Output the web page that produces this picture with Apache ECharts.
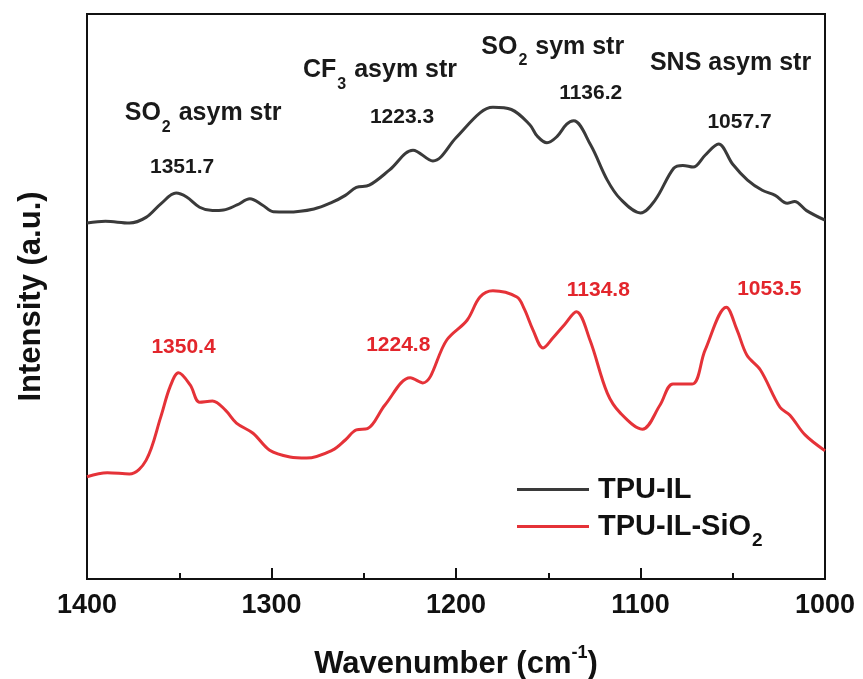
<!DOCTYPE html>
<html>
<head>
<meta charset="utf-8">
<script src="https://cdn.jsdelivr.net/npm/echarts@6/dist/echarts.min.js"></script>
<style>
  html, body { margin: 0; padding: 0; background: #fff; }
  #chart { width: 863px; height: 679px; }
</style>
</head>
<body>
<div id="chart"></div>
<script>
// FTIR spectra, 1400–1000 cm-1 (arbitrary intensity units, curves offset vertically)
const tpuIlWavenumber = [1400, 1390, 1377, 1368, 1360, 1351.7, 1346, 1339, 1332, 1326, 1318.7, 1311.7, 1305, 1299, 1291.5, 1277, 1267, 1260, 1254, 1247, 1236, 1223.3, 1212.5, 1200, 1187, 1180, 1170, 1160, 1156, 1150.7, 1145.3, 1140, 1136.2, 1127, 1118, 1111, 1100, 1092, 1082, 1077, 1071.5, 1065, 1057.7, 1050, 1042, 1034, 1027, 1020.5, 1016.5, 1010, 1000];
const tpuIlIntensity = [63.0, 63.3, 63.0, 64.0, 66.4, 68.3, 67.6, 65.8, 65.2, 65.3, 66.2, 67.3, 66.2, 65.0, 64.95, 65.5, 66.7, 67.9, 69.3, 69.7, 72.4, 75.9, 74.0, 78.1, 82.5, 83.5, 83.1, 80.4, 78.4, 77.2, 78.3, 80.5, 81.1, 76.8, 70.6, 67.3, 64.8, 67.1, 72.7, 73.2, 72.9, 75.0, 77.0, 73.4, 70.6, 68.8, 67.9, 66.5, 66.8, 65.2, 63.5];

const tpuIlSiO2Wavenumber = [1400, 1389, 1377, 1368, 1360, 1355, 1350.4, 1344, 1339, 1332, 1325, 1319, 1310, 1301, 1290, 1281, 1267, 1260, 1254, 1248, 1238.5, 1224.8, 1218, 1205, 1194, 1187, 1180, 1167, 1163, 1158.3, 1152.8, 1147.4, 1141, 1134.8, 1127.4, 1118, 1111, 1099, 1089.4, 1082.4, 1072, 1065, 1053.5, 1047.7, 1042.3, 1035, 1024.4, 1019, 1010.8, 1000];
const tpuIlSiO2Intensity = [18.1, 18.8, 18.6, 21.0, 28.7, 34.0, 36.5, 34.3, 31.3, 31.5, 29.9, 27.6, 25.8, 22.8, 21.6, 21.4, 22.8, 24.6, 26.4, 26.6, 30.8, 35.6, 34.7, 42.3, 45.8, 49.9, 51.0, 49.9, 47.8, 44.1, 40.9, 42.7, 45.1, 47.3, 42.3, 32.9, 29.4, 26.5, 30.8, 34.5, 34.5, 40.5, 48.1, 44.1, 39.6, 37.0, 30.4, 29.0, 25.5, 22.7];

// Labelled peak positions
const tpuIlPeaks = [1351.7, 1223.3, 1136.2, 1057.7];
const tpuIlSiO2Peaks = [1350.4, 1224.8, 1134.8, 1053.5];
const bandNames = ['{b|SO}{s|2}{b| asym str}', '{b|CF}{s|3}{b| asym str}', '{b|SO}{s|2}{b| sym str}', '{b|SNS asym str}'];

const xTicks = [1400, 1300, 1200, 1100, 1000];
const seriesNames = ['TPU-IL', 'TPU-IL-SiO2'];

const FONT = "'Liberation Sans', Arial, Helvetica, sans-serif";
const BLACK_LINE = '#3a3a3a';
const RED_LINE = '#e53238';

const zip = (xs, ys) => xs.map((x, i) => [x, ys[i]]);
const valueAt = (xs, ys, x) => ys[xs.indexOf(x)];

// label offsets (pixels) relative to each peak
const blackNumOffsets = [[6, -26], [-11, -33], [17, -28], [21, -22]];
const blackNameOffsets = [[27, -80], [-33, -80], [-21, -74], [12, -81]];
const redNumOffsets = [[5, -26], [-12, -33], [22, -22], [43, -18]];

const richBand = {
  b: { fontSize: 25, fontWeight: 'bold', color: '#1a1a1a', fontFamily: FONT, lineHeight: 30 },
  s: { fontSize: 16, fontWeight: 'bold', color: '#1a1a1a', fontFamily: FONT, verticalAlign: 'bottom', lineHeight: 16, padding: [0, 1, -7, 1] }
};

function peakMarks(xs, ys, peaks, numOffsets, color, names, nameOffsets) {
  const data = [];
  peaks.forEach((p, i) => {
    data.push({
      coord: [p, valueAt(xs, ys, p)],
      label: { formatter: p.toFixed(1), offset: numOffsets[i], color: color, fontSize: 21, fontWeight: 'bold', fontFamily: FONT }
    });
    if (names) {
      data.push({
        coord: [p, valueAt(xs, ys, p)],
        label: { formatter: names[i], offset: nameOffsets[i], rich: richBand }
      });
    }
  });
  return {
    symbol: 'circle',
    symbolSize: 1,
    silent: true,
    itemStyle: { color: 'rgba(0,0,0,0)' },
    label: { show: true, position: 'inside' },
    data: data
  };
}

const chart = echarts.init(document.getElementById('chart'), null, { renderer: 'canvas' });

chart.setOption({
  animation: false,
  backgroundColor: '#ffffff',
  grid: {
    left: 87, right: 38, top: 14, bottom: 100,
    outerBoundsMode: 'none',
    containLabel: false,
    show: true, borderColor: '#111', borderWidth: 2, backgroundColor: 'transparent'
  },
  legend: {
    data: seriesNames,
    orient: 'vertical',
    left: 512, top: 470,
    icon: 'rect',
    itemWidth: 72, itemHeight: 3,
    itemGap: 8,
    formatter: name => name === 'TPU-IL-SiO2' ? '{t|TPU-IL-SiO}{s|2}' : '{t|TPU-IL}',
    textStyle: {
      padding: [0, 0, 0, 4],
      rich: {
        t: { fontSize: 29, fontWeight: 'bold', color: '#111', fontFamily: FONT, lineHeight: 32 },
        s: { fontSize: 19, fontWeight: 'bold', color: '#111', fontFamily: FONT, verticalAlign: 'bottom', lineHeight: 19, padding: [0, 0, -8, 1] }
      }
    }
  },
  xAxis: {
    type: 'value',
    inverse: true,
    min: 1000, max: 1400, interval: 100,
    name: '{a|Wavenumber (cm}{sup|-1}{a|)}',
    nameLocation: 'middle',
    nameGap: 68,
    nameTextStyle: {
      rich: {
        a: { fontSize: 31, fontWeight: 'bold', color: '#111', fontFamily: FONT, lineHeight: 34 },
        sup: { fontSize: 18, fontWeight: 'bold', color: '#111', fontFamily: FONT, verticalAlign: 'top', lineHeight: 18, padding: [-3, 0, 0, 0] }
      }
    },
    axisLine: { show: true, onZero: false, lineStyle: { color: '#111', width: 2 } },
    axisTick: { show: true, inside: true, length: 11, lineStyle: { color: '#111', width: 2 } },
    minorTick: { show: true, splitNumber: 2, length: 6, lineStyle: { color: '#111', width: 2 } },
    axisLabel: {
      margin: 13, fontSize: 27, fontWeight: 'bold', color: '#111', fontFamily: FONT,
      formatter: v => (xTicks.includes(v) ? String(v) : '')
    },
    splitLine: { show: false }
  },
  yAxis: {
    type: 'value',
    min: 0, max: 100,
    name: 'Intensity (a.u.)',
    nameLocation: 'middle',
    nameGap: 40,
    nameTextStyle: { fontSize: 31, fontWeight: 'bold', color: '#111', fontFamily: FONT },
    axisLine: { show: true, lineStyle: { color: '#111', width: 2 } },
    axisTick: { show: false },
    axisLabel: { show: false },
    splitLine: { show: false }
  },
  series: [
    {
      name: seriesNames[0],
      type: 'line',
      data: zip(tpuIlWavenumber, tpuIlIntensity),
      smooth: 0.35,
      showSymbol: false,
      symbol: 'none',
      lineStyle: { color: BLACK_LINE, width: 3 },
      itemStyle: { color: BLACK_LINE },
      markPoint: peakMarks(tpuIlWavenumber, tpuIlIntensity, tpuIlPeaks, blackNumOffsets, '#1a1a1a', bandNames, blackNameOffsets)
    },
    {
      name: seriesNames[1],
      type: 'line',
      data: zip(tpuIlSiO2Wavenumber, tpuIlSiO2Intensity),
      smooth: 0.35,
      showSymbol: false,
      symbol: 'none',
      lineStyle: { color: RED_LINE, width: 3 },
      itemStyle: { color: RED_LINE },
      markPoint: peakMarks(tpuIlSiO2Wavenumber, tpuIlSiO2Intensity, tpuIlSiO2Peaks, redNumOffsets, '#e3262c')
    }
  ]
});
</script>
</body>
</html>
